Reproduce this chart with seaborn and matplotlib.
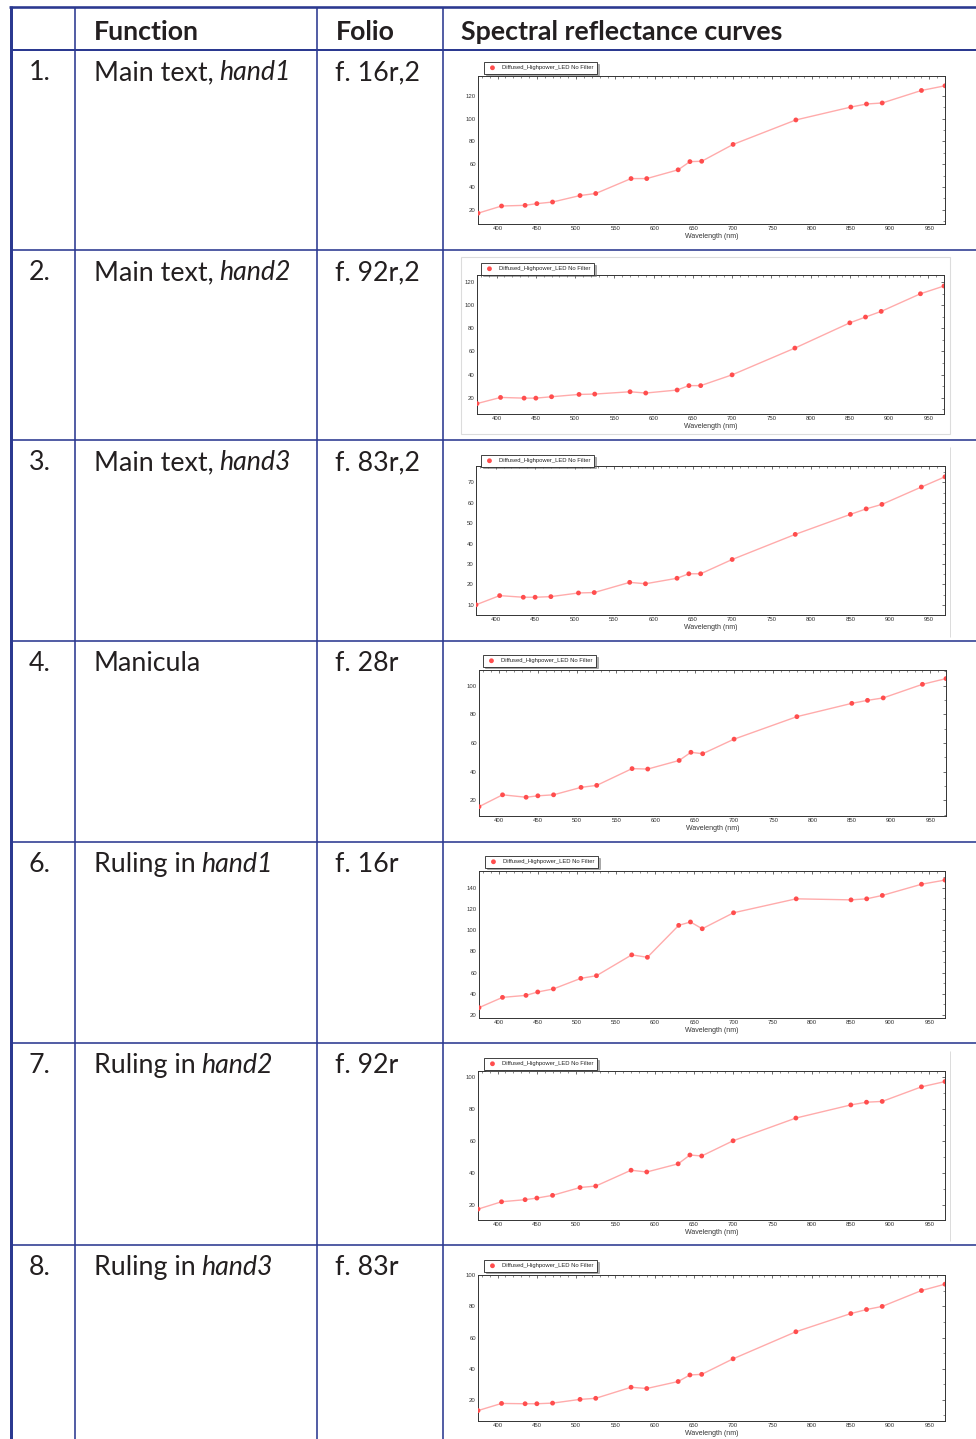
import numpy as np
import pandas as pd
import matplotlib
matplotlib.use("Agg")
import matplotlib.pyplot as plt
import seaborn as sns
from matplotlib.lines import Line2D
from matplotlib.text import Annotation
from matplotlib.ticker import MultipleLocator, AutoMinorLocator

sns.set_style("white")
plt.rcParams['font.family'] = ['Lato', 'DejaVu Sans']

# ---------------------------------------------------------------- data
wavelength_nm = [375, 405, 435, 450, 470, 505, 525, 570, 590, 630,
                 645, 660, 700, 780, 850, 870, 890, 940, 970]

headers = ["Function", "Folio", "Spectral reflectance curves"]
row_numbers = ["1.", "2.", "3.", "4.", "6.", "7.", "8."]
function_plain = ["Main text,", "Main text,", "Main text,", "Manicula",
                  "Ruling in", "Ruling in", "Ruling in"]
function_hand = ["hand1", "hand2", "hand3", "", "hand1", "hand2", "hand3"]
folios = ["f. 16r,2", "f. 92r,2", "f. 83r,2", "f. 28r", "f. 16r", "f. 92r", "f. 83r"]
legend_label = "Diffused_Highpower_LED No Filter"
x_label = "Wavelength (nm)"
x_ticks = [400, 450, 500, 550, 600, 650, 700, 750, 800, 850, 900, 950]

refl_main_hand1 = [17.0, 23.3, 23.9, 25.4, 26.8, 32.5, 34.3, 47.4, 47.4, 55.1,
                   62.3, 62.6, 77.4, 98.9, 110.2, 112.9, 113.8, 124.8, 128.9]
refl_main_hand2 = [15.0, 20.3, 19.7, 19.7, 20.9, 22.9, 23.2, 25.2, 24.1, 26.7,
                   30.5, 30.5, 39.8, 62.9, 84.7, 89.7, 94.6, 109.8, 116.5]
refl_main_hand3 = [10.0, 14.5, 13.7, 13.7, 14.0, 15.8, 16.0, 21.0, 20.3, 23.0,
                   25.2, 25.2, 32.2, 44.5, 54.3, 57.0, 59.2, 67.7, 72.7]
refl_manicula = [15.5, 23.8, 22.1, 23.1, 23.8, 29.0, 30.4, 42.1, 41.8, 47.8,
                 53.5, 52.5, 62.7, 78.4, 87.7, 89.8, 91.5, 101.0, 105.0]
refl_ruling_hand1 = [26.8, 36.5, 38.4, 41.6, 44.5, 54.5, 57.0, 76.7, 74.4, 104.6,
                     107.8, 101.4, 116.5, 129.7, 128.7, 129.7, 132.9, 143.5, 147.4]
refl_ruling_hand2 = [17.5, 22.1, 23.4, 24.4, 26.1, 31.0, 31.9, 41.8, 40.7, 45.8,
                     51.3, 50.7, 60.2, 74.4, 82.6, 84.3, 84.8, 93.9, 97.2]
refl_ruling_hand3 = [13.0, 17.6, 17.4, 17.4, 17.8, 20.2, 20.9, 28.0, 27.2, 31.7,
                     35.9, 36.3, 46.3, 63.7, 75.4, 78.0, 80.0, 90.2, 94.3]

curves = [refl_main_hand1, refl_main_hand2, refl_main_hand3, refl_manicula,
          refl_ruling_hand1, refl_ruling_hand2, refl_ruling_hand3]

# ---------------------------------------------------------------- layout (pixels)
W, H = 976, 1439
NAVY = "#2b3990"
TEXT_C = "#231f20"
DOT_RED = "#ff4d4d"
LINE_RED = "#ffabab"
SANS = ["Liberation Sans", "DejaVu Sans"]

row_edges = [50, 250, 440, 641, 842, 1043, 1245, H + 5]
col_x = [75, 317, 443]

# axes boxes: left, right, top, bottom
axes_boxes = [(478, 945, 76, 224), (477, 944, 275, 414), (476, 945, 466, 615),
              (479, 946, 670, 816), (479, 945, 871, 1018), (478, 945, 1071, 1220),
              (478, 945, 1275, 1421)]
legend_tl = [(484, 62), (481, 263), (481, 455), (483, 655), (485, 856),
             (484, 1058), (484, 1260)]
y_limits = [(7.5, 137.5), (6, 126), (5, 78), (9, 111), (17, 156), (10.7, 103.8), (6.3, 100.2)]
y_steps = [20, 20, 10, 20, 20, 20, 20]


def fx(x):
    return x / W


def fy(y):
    return 1 - y / H


fig = plt.figure(figsize=(W / 100, H / 100), dpi=100)
fig.patch.set_facecolor("white")


def hline(y, x0, x1, lw_px):
    fig.add_artist(Line2D([fx(x0), fx(x1)], [fy(y), fy(y)], color=NAVY,
                          lw=lw_px * 0.72, transform=fig.transFigure,
                          solid_capstyle="butt"))


def vline(x, y0, y1, lw_px, color=NAVY):
    fig.add_artist(Line2D([fx(x), fx(x)], [fy(y0), fy(y1)], color=color,
                          lw=lw_px * 0.72, transform=fig.transFigure,
                          solid_capstyle="butt"))


# table rules
hline(7, 9, W, 2.6)
vline(10.5, 6, H, 3.0)
for x in col_x:
    vline(x, 7, H, 1.6)
hline(50, 10, W, 2.0)
for y in row_edges[1:-1]:
    hline(y, 10, W, 1.6)

# faint frames of some embedded plots
frame_c = "#dcdcdc"
fig.add_artist(plt.Rectangle((fx(461), fy(434)), fx(950) - fx(461), fy(257) - fy(434),
                             fill=False, edgecolor=frame_c, lw=0.8,
                             transform=fig.transFigure))
vline(950, 447, 637, 1.0, color=frame_c)
vline(950, 1051, 1241, 1.0, color=frame_c)

# header
FS = 19.3
head_x = [94, 336, 461]
for hx, label in zip(head_x, headers):
    fig.text(fx(hx), fy(40), label, fontsize=FS, fontweight="bold",
             color=TEXT_C, va="baseline", ha="left")

space_pt = 0.193 * FS
for i in range(7):
    base = fy(row_edges[i] + 30)
    fig.text(fx(29), base, row_numbers[i], fontsize=FS, color=TEXT_C,
             va="baseline", ha="left")
    t1 = fig.text(fx(94), base, function_plain[i], fontsize=FS, color=TEXT_C,
                  va="baseline", ha="left")
    if function_hand[i]:
        ann = Annotation(function_hand[i], xy=(1, 0), xycoords=t1,
                         xytext=(space_pt, 0), textcoords="offset points",
                         fontsize=FS, fontstyle="italic", color=TEXT_C,
                         va="bottom", ha="left")
        fig.add_artist(ann)
    fig.text(fx(335), base, folios[i], fontsize=FS, color=TEXT_C,
             va="baseline", ha="left")

# spectral reflectance curves
for i, values in enumerate(curves):
    l, r, t, b = axes_boxes[i]
    ax = fig.add_axes([fx(l), fy(b), fx(r) - fx(l), fy(t) - fy(b)])
    df = pd.DataFrame({"wavelength": wavelength_nm, "reflectance": values})
    sns.lineplot(data=df, x="wavelength", y="reflectance", ax=ax,
                 color=LINE_RED, lw=1.0, zorder=2)
    sns.scatterplot(data=df, x="wavelength", y="reflectance", ax=ax,
                    color=DOT_RED, s=12, edgecolor="none", zorder=3,
                    label=legend_label)
    ax.set_xlim(375, 970)
    ax.set_ylim(*y_limits[i])
    ax.set_xticks(x_ticks)
    ax.xaxis.set_minor_locator(MultipleLocator(10))
    ax.yaxis.set_major_locator(MultipleLocator(y_steps[i]))
    ax.yaxis.set_minor_locator(AutoMinorLocator(2))
    ax.set_xlabel(x_label, fontsize=5, color="#333333", labelpad=1.2, family=SANS)
    ax.set_ylabel("")
    ax.tick_params(axis="both", which="major", direction="in", length=2.5,
                   width=0.5, labelsize=4.3, pad=1.5, colors="#333333",
                   top=True, right=True)
    ax.tick_params(axis="both", which="minor", direction="in", length=1.4,
                   width=0.4, top=True, right=True, colors="#333333")
    for lab in ax.get_xticklabels() + ax.get_yticklabels():
        lab.set_family(SANS)
    for sp in ax.spines.values():
        sp.set_color("#333333")
        sp.set_linewidth(0.7)
    lx, ly = legend_tl[i]
    leg = ax.legend(loc="upper left", bbox_to_anchor=(fx(lx), fy(ly)),
                    bbox_transform=fig.transFigure, frameon=True, fancybox=False,
                    shadow={"ox": 1.2, "oy": -1.2, "shade": 0.6},
                    borderpad=0.55, handletextpad=0.8,
                    borderaxespad=0, handlelength=1.8,
                    prop={"family": SANS, "size": 4.2})
    leg.get_frame().set_edgecolor("#222222")
    leg.get_frame().set_linewidth(0.6)

fig.savefig("out.png", dpi=100, facecolor="white")
